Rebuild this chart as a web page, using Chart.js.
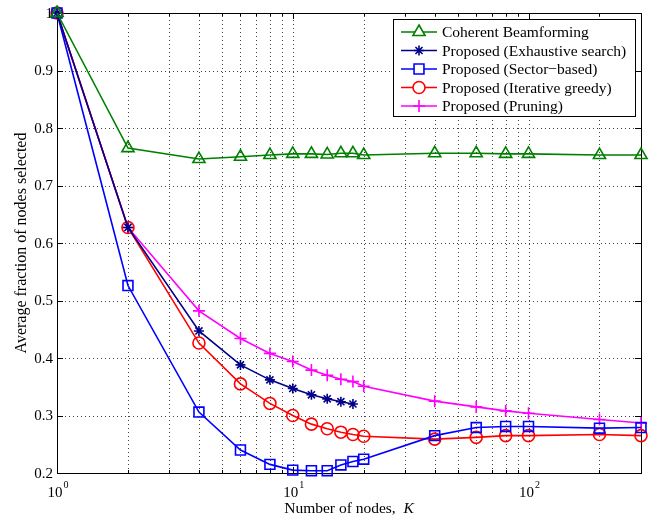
<!DOCTYPE html>
<html>
<head>
<meta charset="utf-8">
<script src="https://cdn.jsdelivr.net/npm/chart.js@4/dist/chart.umd.min.js"></script>
<style>
  body { margin: 0; background: #fff; }
  canvas { display: block; }
</style>
</head>
<body>
<canvas id="nodesChart" width="650" height="517"></canvas>
<script>
// Data
const kValues = [1, 2, 4, 6, 8, 10, 12, 14, 16, 18, 20, 40, 60, 80, 100, 200, 300];
const kExhaustive = [1, 2, 4, 6, 8, 10, 12, 14, 16, 18];

const coherentBF = [1.0, 0.765, 0.746, 0.750, 0.753, 0.755, 0.755, 0.754, 0.756, 0.756, 0.753, 0.756, 0.756, 0.755, 0.755, 0.753, 0.753];
const exhaustive = [1.0, 0.627, 0.447, 0.388, 0.362, 0.347, 0.336, 0.329, 0.324, 0.320];
const sectorBased = [1.0, 0.526, 0.306, 0.240, 0.215, 0.205, 0.204, 0.204, 0.214, 0.220, 0.224, 0.265, 0.279, 0.281, 0.281, 0.278, 0.279];
const iterGreedy = [1.0, 0.627, 0.426, 0.355, 0.321, 0.300, 0.285, 0.277, 0.271, 0.267, 0.264, 0.259, 0.262, 0.265, 0.265, 0.267, 0.265];
const pruning = [1.0, 0.627, 0.482, 0.434, 0.408, 0.394, 0.379, 0.370, 0.363, 0.359, 0.351, 0.325, 0.315, 0.308, 0.304, 0.293, 0.287];

const seriesNames = ["Coherent Beamforming", "Proposed (Exhaustive search)", "Proposed (Sector\u2212based)", "Proposed (Iterative greedy)", "Proposed (Pruning)"];

const xGridValues = [1, 2, 3, 4, 5, 6, 7, 8, 9, 10, 20, 30, 40, 50, 60, 70, 80, 90, 100, 200, 300];
const xMajorTicks = [1, 10, 100];
const yTickValues = [0.2, 0.3, 0.4, 0.5, 0.6, 0.7, 0.8, 0.9, 1.0];

const FONT = "'Liberation Serif', 'Times New Roman', serif";

function pairUp(xs, ys) {
    return ys.map((y, i) => ({ x: xs[i], y: y }));
}

function makeSeries(label, xs, ys, color, style, radius) {
    return {
        label: label,
        data: pairUp(xs, ys),
        borderColor: color,
        backgroundColor: color,
        borderWidth: 1.6,
        pointStyle: style,
        pointRadius: radius,
        pointHoverRadius: radius,
        pointBorderColor: color,
        pointBackgroundColor: "rgba(0,0,0,0)",
        pointBorderWidth: 1.6,
        tension: 0,
        clip: false
    };
}

// Dotted grid, frame, inward ticks and tick labels (MATLAB look)
const axesPlugin = {
    id: "axesPlugin",
    beforeDatasetsDraw(chart) {
        const ctx = chart.ctx;
        const a = chart.chartArea;
        const xs = chart.scales.x, ys = chart.scales.y;
        ctx.save();

        // grid
        ctx.strokeStyle = "#444";
        ctx.lineWidth = 1;
        ctx.setLineDash([1, 3]);
        ctx.beginPath();
        xGridValues.forEach(v => {
            const px = Math.round(xs.getPixelForValue(v)) + 0.5;
            ctx.moveTo(px, a.bottom); ctx.lineTo(px, a.top);
        });
        yTickValues.forEach(v => {
            const py = Math.round(ys.getPixelForValue(v)) + 0.5;
            ctx.moveTo(a.left, py); ctx.lineTo(a.right, py);
        });
        ctx.stroke();
        ctx.setLineDash([]);

        // ticks
        ctx.strokeStyle = "#000";
        ctx.beginPath();
        xGridValues.forEach(v => {
            const px = Math.round(xs.getPixelForValue(v)) + 0.5;
            const len = xMajorTicks.includes(v) ? 6 : 3;
            ctx.moveTo(px, a.bottom); ctx.lineTo(px, a.bottom - len);
            ctx.moveTo(px, a.top); ctx.lineTo(px, a.top + len);
        });
        yTickValues.forEach(v => {
            const py = Math.round(ys.getPixelForValue(v)) + 0.5;
            ctx.moveTo(a.left, py); ctx.lineTo(a.left + 6, py);
            ctx.moveTo(a.right, py); ctx.lineTo(a.right - 6, py);
        });
        ctx.stroke();
        ctx.strokeRect(Math.round(a.left) + 0.5, Math.round(a.top) + 0.5,
            Math.round(a.right - a.left), Math.round(a.bottom - a.top));

        // y tick labels
        ctx.fillStyle = "#000";
        ctx.font = "15px " + FONT;
        ctx.textAlign = "right";
        ctx.textBaseline = "middle";
        yTickValues.forEach(v => {
            const txt = v === 1 ? "1" : v.toFixed(1);
            ctx.fillText(txt, a.left - 4, ys.getPixelForValue(v) + 1);
        });

        // x tick labels: 10 with superscript exponent
        xMajorTicks.forEach((v, i) => {
            const px = xs.getPixelForValue(v);
            ctx.font = "15px " + FONT;
            const w10 = ctx.measureText("10").width;
            ctx.textAlign = "left";
            ctx.textBaseline = "alphabetic";
            ctx.fillText("10", px - w10 / 2 - 2, a.bottom + 24);
            ctx.font = "10px " + FONT;
            ctx.fillText(String(i), px + w10 / 2 - 1, a.bottom + 15);
        });

        // axis titles
        ctx.font = "15.5px " + FONT;
        ctx.textAlign = "left";
        ctx.textBaseline = "alphabetic";
        const t1 = "Number of nodes,  ";
        const w1 = ctx.measureText(t1).width;
        ctx.font = "italic 15.5px " + FONT;
        const w2 = ctx.measureText("K").width;
        const startX = (a.left + a.right) / 2 - (w1 + w2) / 2;
        ctx.font = "15.5px " + FONT;
        ctx.fillText(t1, startX, a.bottom + 40);
        ctx.font = "italic 15.5px " + FONT;
        ctx.fillText("K", startX + w1, a.bottom + 40);

        ctx.translate(26, (a.top + a.bottom) / 2);
        ctx.rotate(-Math.PI / 2);
        ctx.font = "16px " + FONT;
        ctx.textAlign = "center";
        ctx.fillText("Average fraction of nodes selected", 0, 0);
        ctx.restore();
    }
};

// Boxed legend with line + marker samples
const legendPlugin = {
    id: "legendPlugin",
    afterDraw(chart) {
        const ctx = chart.ctx;
        const box = { left: 393, top: 19, width: 242, height: 97 };
        ctx.save();
        ctx.fillStyle = "#fff";
        ctx.fillRect(box.left, box.top, box.width, box.height);
        ctx.strokeStyle = "#000";
        ctx.lineWidth = 1;
        ctx.strokeRect(box.left + 0.5, box.top + 0.5, box.width, box.height);
        ctx.font = "15.5px " + FONT;
        ctx.textBaseline = "middle";
        ctx.textAlign = "left";
        chart.data.datasets.forEach((ds, i) => {
            const y = box.top + 13 + i * 18.5;
            ctx.strokeStyle = ds.borderColor;
            ctx.lineWidth = ds.borderWidth;
            ctx.beginPath();
            ctx.moveTo(401, y); ctx.lineTo(437, y);
            ctx.stroke();
            ctx.fillStyle = "#fff";
            Chart.helpers.drawPoint(ctx, {
                pointStyle: ds.pointStyle,
                radius: ds.pointRadius,
                borderWidth: ds.pointBorderWidth,
                rotation: 0
            }, 419, y);
            ctx.fillStyle = "#000";
            ctx.fillText(ds.label, 442, y + 1);
        });
        ctx.restore();
    }
};

new Chart(document.getElementById("nodesChart").getContext("2d"), {
    type: "line",
    data: {
        datasets: [
            makeSeries(seriesNames[0], kValues, coherentBF, "#008000", "triangle", 7),
            makeSeries(seriesNames[1], kExhaustive, exhaustive, "#00008b", "star", 5),
            makeSeries(seriesNames[2], kValues, sectorBased, "#0000ff", "rect", 7),
            makeSeries(seriesNames[3], kValues, iterGreedy, "#ff0000", "circle", 6),
            makeSeries(seriesNames[4], kValues, pruning, "#ff00ff", "cross", 6)
        ]
    },
    options: {
        responsive: false,
        animation: false,
        events: [],
        layout: { padding: { left: 57, top: 13, right: 9, bottom: 44 } },
        plugins: { legend: { display: false }, tooltip: { enabled: false } },
        scales: {
            x: {
                type: "logarithmic",
                display: false,
                min: 1,
                max: 300,
                afterBuildTicks(scale) {
                    scale.ticks = xGridValues.map(v => ({ value: v }));
                }
            },
            y: {
                display: false,
                min: 0.2,
                max: 1.0,
                afterBuildTicks(scale) {
                    scale.ticks = yTickValues.map(v => ({ value: v }));
                }
            }
        }
    },
    plugins: [axesPlugin, legendPlugin]
});
</script>
</body>
</html>
